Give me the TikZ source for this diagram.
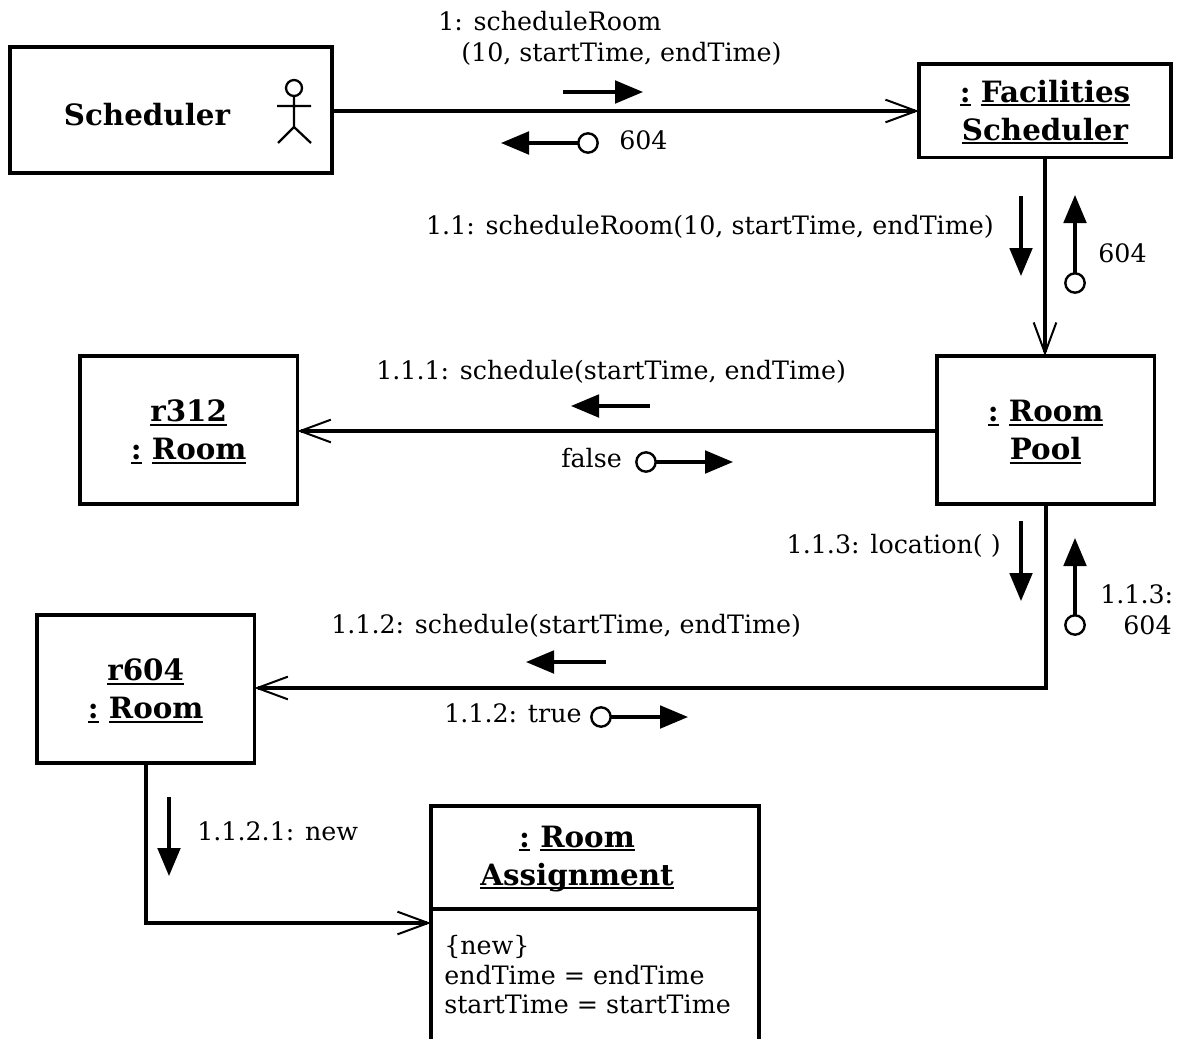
\documentclass[tikz,border=0pt]{standalone}
\usepackage{fontspec}
\setmainfont{DejaVu Serif}
\usetikzlibrary{arrows.meta}
\newcommand{\ulbox}[1]{\leavevmode\setbox0\hbox{#1}\rlap{\rule[-3pt]{\wd0}{1.6pt}}\box0\relax}
\newcommand{\liftline}{\rule{0pt}{19pt}}
\tikzset{x=0.75pt,y=-0.75pt,
 lw/.style={line width=2.3pt},
 objbox/.style={draw,line width=2.3pt,inner sep=0pt,outer sep=0pt,align=center,font=\fontsize{22}{28.5}\selectfont\bfseries},
 msg/.style={font=\fontsize{19}{23}\selectfont,inner sep=0pt,align=left},
 open/.style={-{Straight Barb[length=23pt,width=17pt,line width=1.5pt]}},
 flow/.style={-{Triangle[length=21pt,width=17pt]},line width=2.3pt},
 ret/.style={draw,circle,line width=1.8pt,minimum size=14.5pt,inner sep=0pt,outer sep=0pt}
}
\begin{document}
\begin{tikzpicture}
\useasboundingbox (0,0) rectangle (1178,1039);
\node[objbox,minimum width=241.5pt,minimum height=94.5pt,anchor=north west] (sched) at (10,47) {};
\node[font=\fontsize{22}{28}\selectfont\bfseries,inner sep=0pt] (schedt) at (147,115) {Scheduler};
\node[draw,circle,line width=1.7pt,minimum size=12pt,inner sep=0pt,outer sep=0pt] (head) at (294,88) {};
\coordinate (hip) at (294,127);
\coordinate (armL) at (277,106);
\coordinate (armR) at (311,106);
\coordinate (footL) at (278,143);
\coordinate (footR) at (311,143);
\draw[line width=1.7pt] (head.south) -- (hip) (armL) -- (armR) (footL) -- (hip) -- (footR);
\node[objbox,minimum width=189pt,minimum height=70pt,anchor=north west] (fac) at (919,64) {\liftline\ulbox{:} \ulbox{Facilities}\\\ulbox{Scheduler}};
\node[objbox,minimum width=163pt,minimum height=111pt,anchor=north west] (pool) at (937,356) {\liftline\ulbox{:} \ulbox{Room}\\\ulbox{Pool}};
\node[objbox,minimum width=163pt,minimum height=111pt,anchor=north west] (r312) at (80,356) {\liftline\ulbox{r312}\\\ulbox{:} \ulbox{Room}};
\node[objbox,minimum width=163pt,minimum height=111pt,anchor=north west] (r604) at (37,615) {\liftline\ulbox{r604}\\\ulbox{:} \ulbox{Room}};
% room assignment
\coordinate (raTL) at (431,806);
\coordinate (raTR) at (759,806);
\coordinate (raBL) at (431,1039);
\coordinate (raBR) at (759,1039);
\coordinate (raML) at (431,909);
\coordinate (raMR) at (759,909);
\draw[lw] (raBL) -- (raTL) -- (raTR) -- (raBR) (raML) -- (raMR);
\node[font=\fontsize{22}{28.5}\selectfont\bfseries,align=center,inner sep=0pt] (rat) at (577,859) {\ulbox{:} \ulbox{Room}\\\ulbox{Assignment}};
\node[msg,anchor=north west,font=\fontsize{19}{22.3}\selectfont] (rab) at (444,935) {\{new\}\\endTime = endTime\\startTime = startTime};
% connectors
\coordinate (c1) at (333,111);
\draw[lw,open] (c1) -- (fac.west |- c1);
\coordinate (c2) at (1045,157);
\coordinate (c2e) at (1045,356);
\draw[lw,open] (c2) -- (c2e);
\coordinate (c3) at (937,431);
\draw[lw,open] (c3) -- (r312.east |- c3);
\coordinate (c4) at (1046,504);
\coordinate (c4b) at (1046,688);
\draw[lw,open] (c4) -- (c4b) -- (r604.east |- c4b);
\coordinate (c5) at (146,763);
\coordinate (c5b) at (146,923);
\coordinate (c5e) at (431,923);
\draw[lw,open] (c5) -- (c5b) -- (c5e);
% message arrows
\coordinate (a1) at (563,92); \coordinate (a1e) at (643,92);
\draw[flow] (a1) -- (a1e);
\node[ret] (o2) at (588,143) {};
\coordinate (a2e) at (501,143);
\draw[flow] (o2) -- (a2e);
\coordinate (a3) at (1021,196); \coordinate (a3e) at (1021,276);
\draw[flow] (a3) -- (a3e);
\node[ret] (o4) at (1075,283) {};
\coordinate (a4e) at (1075,195);
\draw[flow] (o4) -- (a4e);
\coordinate (a5) at (650,406); \coordinate (a5e) at (571,406);
\draw[flow] (a5) -- (a5e);
\node[ret] (o6) at (646,462) {};
\coordinate (a6e) at (733,462);
\draw[flow] (o6) -- (a6e);
\coordinate (a7) at (1021,521); \coordinate (a7e) at (1021,601);
\draw[flow] (a7) -- (a7e);
\node[ret] (o8) at (1075,625) {};
\coordinate (a8e) at (1075,538);
\draw[flow] (o8) -- (a8e);
\coordinate (a9) at (606,662); \coordinate (a9e) at (526,662);
\draw[flow] (a9) -- (a9e);
\node[ret] (o10) at (601,717) {};
\coordinate (a10e) at (688,717);
\draw[flow] (o10) -- (a10e);
\coordinate (a11) at (169,797); \coordinate (a11e) at (169,876);
\draw[flow] (a11) -- (a11e);
% labels
\node[msg,anchor=west] (l1) at (438,21) {1: scheduleRoom};
\node[msg,anchor=west] (l1b) at (461,54) {(10, startTime, endTime)};
\node[msg,anchor=west] (l2) at (619,140) {604};
\node[msg,anchor=east] (l3) at (994,227) {1.1: scheduleRoom(10, startTime, endTime)};
\node[msg,anchor=west] (l4) at (1098,253) {604};
\node[msg,anchor=west] (l5) at (376,372) {1.1.1: schedule(startTime, endTime)};
\node[msg,anchor=west] (l6) at (561,458) {false};
\node[msg,anchor=east] (l7) at (1001,546) {1.1.3: location( )};
\node[msg,anchor=west] (l8) at (1100,594) {1.1.3:};
\node[msg,anchor=west] (l8b) at (1123,625) {604};
\node[msg,anchor=west] (l9) at (331,626) {1.1.2: schedule(startTime, endTime)};
\node[msg,anchor=west] (l10) at (444,713) {1.1.2: true};
\node[msg,anchor=west] (l11) at (197,831) {1.1.2.1: new};
\end{tikzpicture}
\end{document}
